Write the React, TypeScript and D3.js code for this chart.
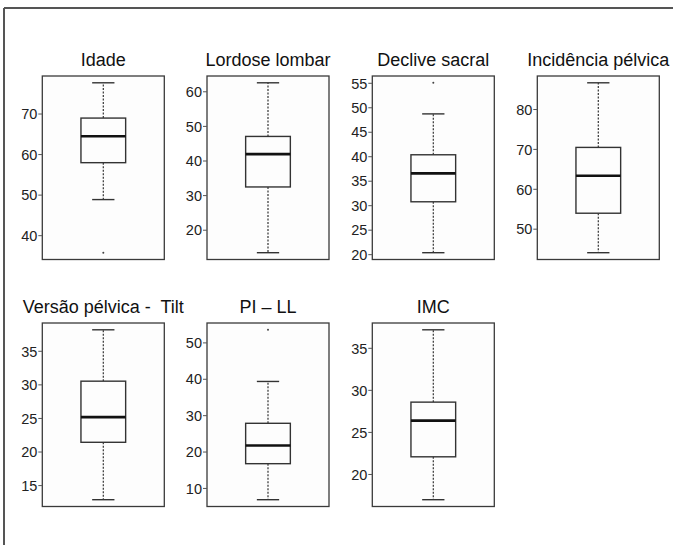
import React from "react";
import * as d3 from "d3";

const titles = [
  "Idade",
  "Lordose lombar",
  "Declive sacral",
  "Incidência pélvica",
  "Versão pélvica -  Tilt",
  "PI \u2013 LL",
  "IMC",
];
const whiskerLow = [48.9, 13.5, 20.4, 44.1, 12.9, 6.9, 17.0];
const q1 = [58.0, 32.5, 30.8, 54.0, 21.45, 16.8, 22.1];
const median = [64.5, 42.0, 36.6, 63.4, 25.2, 21.8, 26.4];
const q3 = [69.0, 47.1, 40.4, 70.5, 30.55, 27.9, 28.6];
const whiskerHigh = [77.7, 62.6, 48.75, 86.7, 38.2, 39.4, 37.2];
const outliers = [[35.8], [], [55.1], [], [], [53.6], []];
const tickValues = [
  [40, 50, 60, 70],
  [20, 30, 40, 50, 60],
  [20, 25, 30, 35, 40, 45, 50, 55],
  [50, 60, 70, 80],
  [15, 20, 25, 30, 35],
  [10, 20, 30, 40, 50],
  [20, 25, 30, 35],
];

const width = 673;
const height = 545;
const colLeft = [42.3, 207, 372.3, 537.3];
const panelW = 122;
const rowTop = [76, 323];
const panelH = 183.5;
const boxW = 44.7;
const capW = 22.3;
const font = "Liberation Sans, Arial, sans-serif";

const Panel = ({ i }: { i: number }) => {
  const col = i % 4;
  const row = Math.floor(i / 4);
  const x0 = colLeft[col];
  const y0 = rowTop[row];
  // R-style 4% padding around the data range
  const all = [whiskerLow[i], whiskerHigh[i], ...outliers[i]];
  const lo = d3.min(all) as number;
  const hi = d3.max(all) as number;
  const pad = (hi - lo) * 0.04;
  const y = d3.scaleLinear().domain([lo - pad, hi + pad]).range([y0 + panelH, y0]);
  const cx = x0 + panelW / 2;
  const stroke = "#333";
  return (
    <g>
      <rect x={x0} y={y0} width={panelW} height={panelH} fill="#fdfdfd" stroke="#3a3a3a" strokeWidth={1.3} />
      <text
        x={cx}
        y={y0 - 10}
        textAnchor="middle"
        fontSize={18}
        fill="#111"
        style={{ fontFamily: font, whiteSpace: "pre" }}
      >
        {titles[i]}
      </text>
      {tickValues[i].map((t) => (
        <g key={t}>
          <line x1={x0 - 4} x2={x0} y1={y(t)} y2={y(t)} stroke="#555" strokeWidth={1} />
          <text
            x={x0 - 5}
            y={y(t)}
            dy="0.36em"
            textAnchor="end"
            fontSize={14.5}
            fill="#222"
            style={{ fontFamily: font }}
          >
            {t}
          </text>
        </g>
      ))}
      <line x1={cx} x2={cx} y1={y(q3[i])} y2={y(whiskerHigh[i])} stroke={stroke} strokeWidth={1.2} strokeDasharray="2,1.5" />
      <line x1={cx} x2={cx} y1={y(q1[i])} y2={y(whiskerLow[i])} stroke={stroke} strokeWidth={1.2} strokeDasharray="2,1.5" />
      <line x1={cx - capW / 2} x2={cx + capW / 2} y1={y(whiskerHigh[i])} y2={y(whiskerHigh[i])} stroke={stroke} strokeWidth={1.4} />
      <line x1={cx - capW / 2} x2={cx + capW / 2} y1={y(whiskerLow[i])} y2={y(whiskerLow[i])} stroke={stroke} strokeWidth={1.4} />
      <rect
        x={cx - boxW / 2}
        y={y(q3[i])}
        width={boxW}
        height={y(q1[i]) - y(q3[i])}
        fill="#fdfdfd"
        stroke={stroke}
        strokeWidth={1.4}
      />
      <line x1={cx - boxW / 2} x2={cx + boxW / 2} y1={y(median[i])} y2={y(median[i])} stroke="#111" strokeWidth={2.6} />
      {outliers[i].map((o, k) => (
        <circle key={k} cx={cx} cy={y(o)} r={1} fill="#444" />
      ))}
    </g>
  );
};

export default function App() {
  return (
    <div style={{ position: "absolute", left: 0, top: 0 }}>
      <svg width={width} height={height} style={{ display: "block", background: "#fff" }}>
        <line x1={4} x2={width} y1={8} y2={8} stroke="#555" strokeWidth={2} />
        <line x1={4} x2={4} y1={8} y2={height} stroke="#555" strokeWidth={2} />
        {titles.map((_, i) => (
          <Panel key={i} i={i} />
        ))}
      </svg>
    </div>
  );
}
